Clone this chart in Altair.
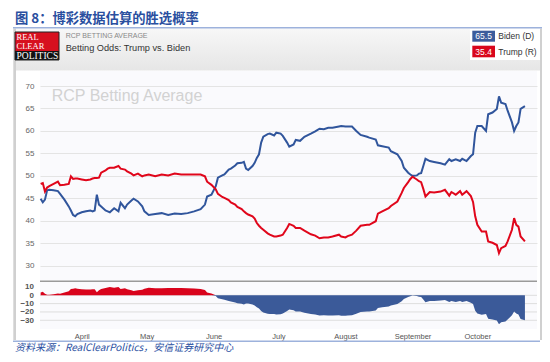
import altair as alt
import pandas as pd

# ---------------- data ----------------
dates = [
    "2020-03-13", "2020-03-14", "2020-03-15", "2020-03-16", "2020-03-17", "2020-03-19",
    "2020-03-21", "2020-03-22", "2020-03-24", "2020-03-26", "2020-03-27", "2020-03-28",
    "2020-03-29", "2020-03-30", "2020-04-01", "2020-04-03", "2020-04-05", "2020-04-06",
    "2020-04-07", "2020-04-08", "2020-04-09", "2020-04-10", "2020-04-12", "2020-04-13",
    "2020-04-14", "2020-04-16", "2020-04-18", "2020-04-19", "2020-04-21", "2020-04-22",
    "2020-04-24", "2020-04-25", "2020-04-27", "2020-04-29", "2020-04-30", "2020-05-02",
    "2020-05-05", "2020-05-08", "2020-05-11", "2020-05-14", "2020-05-17", "2020-05-20",
    "2020-05-23", "2020-05-26", "2020-05-28", "2020-05-29", "2020-05-31", "2020-06-02",
    "2020-06-03", "2020-06-05", "2020-06-06", "2020-06-08", "2020-06-09", "2020-06-11",
    "2020-06-12", "2020-06-14", "2020-06-15", "2020-06-16", "2020-06-17", "2020-06-19",
    "2020-06-20", "2020-06-21", "2020-06-22", "2020-06-23", "2020-06-24", "2020-06-26",
    "2020-06-27", "2020-06-29", "2020-06-30", "2020-07-02", "2020-07-03", "2020-07-05",
    "2020-07-06", "2020-07-08", "2020-07-09", "2020-07-11", "2020-07-13", "2020-07-16",
    "2020-07-18", "2020-07-20", "2020-07-22", "2020-07-24", "2020-07-26", "2020-07-29",
    "2020-07-30", "2020-08-01", "2020-08-02", "2020-08-04", "2020-08-06", "2020-08-08",
    "2020-08-11", "2020-08-12", "2020-08-15", "2020-08-16", "2020-08-18", "2020-08-21",
    "2020-08-22", "2020-08-25", "2020-08-27", "2020-08-28", "2020-08-30", "2020-08-31",
    "2020-09-01", "2020-09-03", "2020-09-04", "2020-09-05", "2020-09-06", "2020-09-07",
    "2020-09-09", "2020-09-11", "2020-09-14", "2020-09-16", "2020-09-18", "2020-09-19",
    "2020-09-21", "2020-09-23", "2020-09-24", "2020-09-26", "2020-09-28", "2020-09-29",
    "2020-09-30", "2020-10-01", "2020-10-03", "2020-10-05", "2020-10-06", "2020-10-08",
    "2020-10-10", "2020-10-11", "2020-10-12", "2020-10-14", "2020-10-15", "2020-10-17",
    "2020-10-18", "2020-10-19", "2020-10-20", "2020-10-21", "2020-10-23",
]
biden = [
    44.9, 44.1, 44.7, 46.8, 46.9, 46.8, 46.6, 46.0, 44.7, 43.2, 42.3, 41.3,
    41.0, 41.5, 41.9, 42.1, 42.3, 42.1, 42.3, 45.8, 43.6, 43.2, 42.3, 42.1,
    41.9, 42.8, 42.1, 44.0, 42.8, 43.6, 44.5, 44.9, 44.3, 43.2, 42.1, 41.3,
    41.5, 41.7, 41.3, 41.6, 41.5, 41.7, 42.1, 42.6, 43.6, 45.4, 45.8, 47.7,
    49.6, 50.1, 50.3, 51.4, 51.6, 52.3, 52.8, 52.9, 53.1, 51.6, 51.3, 52.2,
    52.9, 54.0, 54.8, 57.4, 58.7, 59.3, 59.4, 59.0, 59.6, 59.4, 58.9, 57.4,
    56.5, 57.0, 58.0, 57.8, 58.7, 59.4, 59.9, 60.5, 60.4, 60.7, 60.7, 61.0,
    61.1, 61.0, 61.0, 61.0, 60.0, 59.1, 58.7, 58.5, 58.1, 56.8, 56.6, 56.3,
    55.5, 54.8, 53.3, 51.8, 50.7, 50.3, 50.0, 50.1, 50.5, 50.6, 52.2, 53.8,
    53.3, 53.1, 52.8, 52.5, 53.7, 53.3, 53.7, 53.3, 53.8, 53.3, 54.4, 54.8,
    59.6, 61.1, 61.1, 60.0, 63.7, 64.1, 64.9, 67.7, 66.3, 66.0, 64.5, 61.9,
    60.0, 61.1, 61.9, 64.9, 65.5,
]
trump = [
    48.2, 48.4, 46.5, 47.4, 47.7, 48.2, 48.7, 47.9, 48.0, 48.2, 49.9, 49.3,
    49.4, 49.4, 49.2, 49.0, 49.2, 49.4, 49.5, 49.5, 49.6, 50.7, 51.2, 51.6,
    51.8, 51.8, 52.2, 51.6, 51.4, 51.0, 50.5, 50.1, 50.5, 49.9, 50.1, 50.3,
    49.9, 50.3, 50.1, 50.5, 50.3, 50.3, 50.3, 50.3, 49.9, 48.7, 48.0, 47.0,
    46.0, 45.3, 45.1, 44.6, 44.1, 43.6, 43.1, 42.6, 42.1, 41.7, 41.4, 41.0,
    40.5, 39.5, 38.9, 38.4, 38.0, 37.2, 36.9, 36.5, 36.5, 36.7, 36.9, 38.4,
    39.3, 38.9, 38.4, 38.4, 37.8, 37.0, 36.7, 36.1, 36.3, 36.3, 36.5, 36.9,
    36.5, 36.3, 36.6, 36.9, 37.8, 38.9, 39.1, 39.1, 39.9, 41.6, 42.1, 42.8,
    43.3, 44.3, 46.2, 47.3, 48.6, 49.3, 49.8, 49.2, 48.8, 48.6, 47.1, 45.4,
    46.4, 46.3, 46.5, 46.9, 45.6, 46.4, 45.8, 46.6, 45.8, 46.6, 45.5, 44.2,
    41.0, 39.1, 37.6, 37.6, 35.4, 35.1, 34.6, 32.8, 33.9, 34.4, 35.4, 38.0,
    40.6, 39.1, 38.7, 36.5, 35.4,
]
month_ticks = [4, 5, 6, 7, 8, 9, 10]
upper_ticks = [30, 35, 40, 45, 50, 55, 60, 65, 70]
lower_ticks = [10, 0, -10, -20, -30]
lower_grid = [0, -10, -20, -30]

title_text = "图 8：博彩数据估算的胜选概率"
source_text = "资料来源：RealClearPolitics，安信证券研究中心"

df = pd.DataFrame({"date": dates, "biden": biden, "trump": trump})

# ---------------- styling ----------------
BLUE_LINE = "#30559c"
RED_LINE = "#e0061b"
BLUE_AREA = "#3b5a99"
RED_AREA = "#d9031c"
SANS = "Liberation Sans"


def ms(s):
    return int(pd.Timestamp(s, tz="UTC").value // 10**6)


x_domain = [ms("2020-03-12 17:00"), ms("2020-10-28 14:00")]

x_axis = alt.Axis(
    values=[alt.DateTime(year=2020, month=m, date=1, utc=True) for m in month_ticks],
    format="%B", labelFont=SANS, labelFontSize=7.5, labelColor="#555",
    domain=False, ticks=False, grid=False, labelPadding=3, title=None,
    labelFlush=False,
)
X = alt.X("date:T", scale=alt.Scale(type="utc", domain=x_domain), axis=x_axis)

yU = alt.Scale(domain=[15.91, 73.34], nice=False, zero=False)
upper_axis = alt.Axis(
    values=upper_ticks, orient="left", grid=True, gridColor="#e4e4e4",
    domain=False, ticks=False, labelPadding=6, labelFont=SANS,
    labelFontSize=8, labelColor="#666", title=None,
)
yL = alt.Scale(domain=[-40.48, 269.4], nice=False, zero=False)
lower_axis = alt.Axis(
    values=lower_ticks, orient="left", grid=False,
    domain=False, ticks=False, labelPadding=6.5, labelFont=SANS,
    labelFontSize=8, labelFontWeight="bold", labelColor="#555", title=None,
)

blue_line = alt.Chart(df).mark_line(color=BLUE_LINE, strokeWidth=2).encode(
    x=X, y=alt.Y("biden:Q", scale=yU, axis=upper_axis))
red_line = alt.Chart(df).mark_line(color=RED_LINE, strokeWidth=2).encode(
    x=X, y=alt.Y("trump:Q", scale=yU, axis=upper_axis))
upper = alt.layer(blue_line, red_line)

spread_base = alt.Chart(df).transform_calculate(
    spread="datum.trump - datum.biden"
).transform_calculate(
    pos="max(datum.spread, 0)", neg="min(datum.spread, 0)"
)
grid_rules = alt.Chart(pd.DataFrame({"v": lower_grid})).mark_rule(
    color="#dedede", strokeWidth=1).encode(
    y=alt.Y("v:Q", scale=yL, axis=lower_axis))
pos_area = spread_base.mark_area(color=RED_AREA).encode(
    x=X, y=alt.Y("pos:Q", scale=yL, axis=lower_axis), y2=alt.datum(0))
neg_area = spread_base.mark_area(color=BLUE_AREA).encode(
    x=X, y=alt.Y("neg:Q", scale=yL, axis=lower_axis), y2=alt.datum(0))
lower = alt.layer(grid_rules, pos_area, neg_area)

# ---------------- decorations ----------------
one = alt.InlineData(values=[{"k": 1}])


def rect(x1, x2, y1, y2, **kw):
    return alt.Chart(one).mark_rect(**kw).encode(
        x=alt.value(x1), x2=alt.value(x2), y=alt.value(y1), y2=alt.value(y2))


def hrule(x1, x2, y, **kw):
    return alt.Chart(one).mark_rule(**kw).encode(
        x=alt.value(x1), x2=alt.value(x2), y=alt.value(y))


def txt(s, x, y, align="left", **kw):
    return alt.Chart(one).mark_text(text=s, align=align, baseline="middle", **kw).encode(
        x=alt.value(x), y=alt.value(y))


band_grad = alt.LinearGradient(
    gradient="linear", x1=0, x2=0, y1=0, y2=1,
    stops=[alt.GradientStop(offset=0, color="#f7f7f7"),
           alt.GradientStop(offset=1, color="#e6e6e6")])

decor_back = [
    rect(-24, 500, -42.5, -0.5, color=band_grad),
    rect(-26.7, -24, -42.5, 269, color="#d0d0d0"),
    rect(500, 503, -42.5, 269, color="#d0d0d0"),
    hrule(-27, 502, -43.3, color="#9db2dc", strokeWidth=1.5),
    hrule(-27, 500, 270.3, color="#9db2dc", strokeWidth=1.5),
    hrule(0, 497, 210.3, color="#9a9a9a", strokeWidth=1.5),
    txt("RCP Betting Average", 11.7, 25, font=SANS, fontSize=16, color="#d2d2d2"),
]

decor_front = [
    txt(title_text, -25, -51.6, font="Noto Sans CJK SC", fontSize=13.3,
        fontWeight="bold", color="#2a4f9f"),
    txt(source_text, -25, 277.3, font="Noto Sans CJK SC", fontSize=10,
        fontStyle="italic", color="#2a4f9f"),
    # logo
    rect(-25, 19, -39, -20, color="#d7101e"),
    rect(-25, 19, -20, -11, color="#111111"),
    rect(-25, 19, -39, -11, fillOpacity=0, stroke="#222", strokeWidth=1),
    txt("REAL", -23.5, -34, font="Liberation Serif", fontSize=8.5, color="white"),
    txt("CLEAR", -23.5, -25.5, font="Liberation Serif", fontSize=8.5, color="white"),
    txt("POLITICS", -23.5, -15.3, font="Liberation Serif", fontSize=9.5, color="white"),
    # header texts
    txt("RCP BETTING AVERAGE", 25.7, -35, font=SANS, fontSize=7, color="#888"),
    txt("Betting Odds: Trump vs. Biden", 25.7, -23, font=SANS, fontSize=9.2, color="#333"),
    # legend
    rect(430, 500, -42, -11, color="white"),
    rect(432.3, 455, -40.3, -29.3, color="#3c5c9c"),
    rect(432.3, 455, -25.3, -13.7, color="#d9061c"),
    txt(f"{biden[-1]:.1f}", 443.6, -34.8, align="center", font=SANS, fontSize=8.5, color="white"),
    txt(f"{trump[-1]:.1f}", 443.6, -19.5, align="center", font=SANS, fontSize=8.5, color="white"),
    txt("Biden (D)", 458.3, -34.8, font=SANS, fontSize=8.5, color="#333"),
    txt("Trump (R)", 458.3, -19.5, font=SANS, fontSize=8.5, color="#333"),
]

chart = alt.layer(
    *decor_back, upper, lower, *decor_front
).resolve_scale(
    y="independent"
).properties(
    width=497, height=258,
    autosize=alt.AutoSizeParams(type="none"),
    padding={"left": 32, "top": 63, "right": 5, "bottom": 25},
    background="white",
).configure_view(stroke=None, fill="#fafafd")

chart.save("out.html", embed_options={"renderer": "svg", "actions": False})
